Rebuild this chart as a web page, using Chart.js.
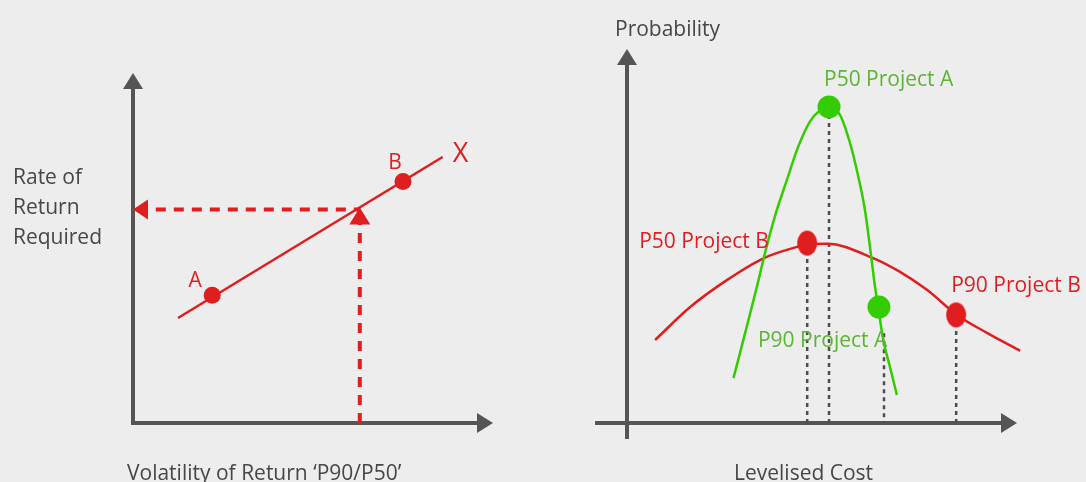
<!DOCTYPE html>
<html>
<head>
<meta charset="utf-8">
<script src="https://cdn.jsdelivr.net/npm/chart.js@4"></script>
<style>
  html, body { margin: 0; padding: 0; background: #ededed; }
  #wrap { position: relative; width: 1086px; height: 482px; overflow: hidden; }
  .panel { position: absolute; top: 0; height: 482px; }
  #leftPanel { left: 0; width: 560px; }
  #rightPanel { left: 560px; width: 526px; }
</style>
</head>
<body>
<div id="wrap">
  <div class="panel" id="leftPanel"><canvas id="returnChart"></canvas></div>
  <div class="panel" id="rightPanel"><canvas id="costChart"></canvas></div>
</div>
<script>
/* ---- left panel: rate of return vs volatility ---- */
var lineVol      = [1.25, 8.6];
var lineReturn   = [3.0, 7.6];
var projectNames = ['A', 'B'];
var projectVol   = [2.2, 7.5];
var projectRet   = [3.65, 6.9];
var requiredVol  = 6.3;
var requiredRet  = 6.1;

/* ---- right panel: probability vs levelised cost ---- */
var costA = [2.73, 3.03, 3.33, 3.54, 3.79, 4.10, 4.39, 4.69, 4.91, 5.18, 5.46, 5.72, 5.93, 6.10, 6.23, 6.36, 6.44, 6.57, 6.74, 6.92];
var probA = [1.20, 2.41, 3.64, 4.55, 5.52, 6.50, 7.39, 8.06, 8.32, 8.42, 8.24, 7.48, 6.59, 5.70, 4.71, 3.64, 3.11, 2.22, 1.51, 0.75];
var costB = [0.72, 1.62, 2.56, 3.51, 4.36, 4.62, 5.13, 6.31, 7.00, 7.69, 8.46, 9.23, 10.08];
var probB = [2.22, 3.10, 3.82, 4.41, 4.71, 4.78, 4.79, 4.41, 4.04, 3.56, 2.89, 2.41, 1.93];

var markerNamesA = ['P50 Project A', 'P90 Project A'];
var markerCostA  = [5.18, 6.46];
var markerProbA  = [8.45, 3.10];
var markerNamesB = ['P50 Project B', 'P90 Project B'];
var markerCostB  = [4.62, 8.44];
var markerProbB  = [4.81, 2.89];

var dropCost = [4.62, 5.18, 6.59, 8.44];
var dropTop  = [4.81, 8.45, 2.40, 2.89];

var RED = '#e01d1f';
var GREEN = '#33cc00';
var GREEN_TEXT = '#5cb535';
var AXIS = '#555555';
var TEXT = '#474747';
var FONT = '"Open Sans", "Noto Sans", sans-serif';

function pts(xs, ys) {
  return xs.map(function(x, i) { return { x: x, y: ys[i] }; });
}

function drawText(ctx, txt, x, y, color, size, align) {
  ctx.save();
  ctx.font = size + 'px ' + FONT;
  ctx.fillStyle = color;
  ctx.textAlign = align || 'left';
  ctx.textBaseline = 'alphabetic';
  ctx.fillText(txt, x, y);
  ctx.restore();
}

function arrowHead(ctx, tipX, tipY, dir, len, half, color) {
  ctx.save();
  ctx.fillStyle = color;
  ctx.beginPath();
  ctx.moveTo(tipX, tipY);
  if (dir === 'up') {
    ctx.lineTo(tipX - half, tipY + len);
    ctx.lineTo(tipX + half, tipY + len);
  } else if (dir === 'right') {
    ctx.lineTo(tipX - len, tipY - half);
    ctx.lineTo(tipX - len, tipY + half);
  } else if (dir === 'left') {
    ctx.lineTo(tipX + len, tipY - half);
    ctx.lineTo(tipX + len, tipY + half);
  }
  ctx.closePath();
  ctx.fill();
  ctx.restore();
}

function drawAxes(chart, extLeft, extDown) {
  var ctx = chart.ctx;
  var xs = chart.scales.x, ys = chart.scales.y;
  var ox = xs.getPixelForValue(0), oy = ys.getPixelForValue(0);
  var tx = xs.getPixelForValue(xs.max), ty = ys.getPixelForValue(ys.max);
  ctx.save();
  ctx.strokeStyle = AXIS;
  ctx.lineWidth = 4;
  ctx.beginPath();
  ctx.moveTo(ox, oy + extDown);
  ctx.lineTo(ox, ty + 16);
  ctx.moveTo(ox - extLeft, oy);
  ctx.lineTo(tx - 16, oy);
  ctx.stroke();
  ctx.restore();
  arrowHead(ctx, ox, ty, 'up', 16, 10, AXIS);
  arrowHead(ctx, tx, oy, 'right', 16, 10, AXIS);
}

/* ---- left chart ---- */
var returnDecor = {
  id: 'returnDecor',
  beforeDatasetsDraw: function(chart) { drawAxes(chart, 2, 2); },
  afterDatasetsDraw: function(chart) {
    var ctx = chart.ctx;
    var xs = chart.scales.x, ys = chart.scales.y;
    // heads of the dashed arrows
    arrowHead(ctx, xs.getPixelForValue(0), ys.getPixelForValue(requiredRet), 'left', 15, 10, RED);
    arrowHead(ctx, xs.getPixelForValue(requiredVol), ys.getPixelForValue(requiredRet) - 2, 'up', 17, 10.5, RED);
  },
  afterDraw: function(chart) {
    var ctx = chart.ctx;
    var xs = chart.scales.x, ys = chart.scales.y;
    drawText(ctx, 'Rate of', 13, 184, TEXT, 21);
    drawText(ctx, 'Return', 13, 214, TEXT, 21);
    drawText(ctx, 'Required', 13, 244, TEXT, 21);
    drawText(ctx, 'Volatility of Return \u2018P90/P50\u2019', 127, 480, TEXT, 21);
    var offs = [[-17, -8], [-8, -13]];
    projectNames.forEach(function(n, i) {
      drawText(ctx, n, xs.getPixelForValue(projectVol[i]) + offs[i][0],
        ys.getPixelForValue(projectRet[i]) + offs[i][1], RED, 21, 'center');
    });
    drawText(ctx, 'X', xs.getPixelForValue(lineVol[1]) + 18, ys.getPixelForValue(lineReturn[1]) + 5, RED, 27, 'center');
  }
};

new Chart(document.getElementById('returnChart'), {
  type: 'line',
  data: {
    datasets: [
      {
        data: pts(projectVol, projectRet),
        showLine: false,
        pointRadius: 8.5,
        pointBackgroundColor: RED,
        pointBorderWidth: 0,
        order: 0
      },
      {
        data: pts(lineVol, lineReturn),
        borderColor: RED,
        borderWidth: 2.5,
        pointRadius: 0,
        order: 1
      },
      {
        data: [{ x: requiredVol, y: 0 }, { x: requiredVol, y: requiredRet }],
        borderColor: RED,
        borderWidth: 4,
        borderDash: [10, 8],
        pointRadius: 0,
        order: 2
      },
      {
        data: [{ x: requiredVol, y: requiredRet }, { x: 0, y: requiredRet }],
        borderColor: RED,
        borderWidth: 4,
        borderDash: [10, 8],
        borderDashOffset: 4,
        pointRadius: 0,
        order: 2
      }
    ]
  },
  options: {
    responsive: true,
    maintainAspectRatio: false,
    animation: false,
    layout: { padding: { left: 133, right: 67, top: 73, bottom: 59 } },
    plugins: { legend: { display: false }, tooltip: { enabled: false } },
    scales: {
      x: { type: 'linear', min: 0, max: 10, display: false },
      y: { type: 'linear', min: 0, max: 10, display: false }
    }
  },
  plugins: [returnDecor]
});

/* ---- right chart ---- */
function ellipseDot(rx, ry, color) {
  var c = document.createElement('canvas');
  c.width = rx * 2 + 2;
  c.height = ry * 2 + 2;
  var g = c.getContext('2d');
  g.fillStyle = color;
  g.beginPath();
  g.ellipse(rx + 1, ry + 1, rx, ry, 0, 0, Math.PI * 2);
  g.fill();
  return c;
}

var dropPts = [];
dropCost.forEach(function(c, i) {
  dropPts.push({ x: c, y: dropTop[i] }, { x: c, y: 0 }, { x: c, y: null });
});

var costDecor = {
  id: 'costDecor',
  beforeDatasetsDraw: function(chart) { drawAxes(chart, 32, 16); },
  afterDraw: function(chart) {
    var ctx = chart.ctx;
    var xs = chart.scales.x, ys = chart.scales.y;
    var ox = xs.getPixelForValue(0);
    drawText(ctx, 'Probability', ox - 12, 36, TEXT, 21);
    drawText(ctx, 'Levelised Cost', 174, 480, TEXT, 21);
    var offA = [[-5, -21], [-121, 40]];
    markerNamesA.forEach(function(n, i) {
      drawText(ctx, n, xs.getPixelForValue(markerCostA[i]) + offA[i][0],
        ys.getPixelForValue(markerProbA[i]) + offA[i][1], GREEN_TEXT, 21);
    });
    var offB = [[-168, 5], [-5, -23]];
    markerNamesB.forEach(function(n, i) {
      drawText(ctx, n, xs.getPixelForValue(markerCostB[i]) + offB[i][0],
        ys.getPixelForValue(markerProbB[i]) + offB[i][1], RED, 21);
    });
  }
};

new Chart(document.getElementById('costChart'), {
  type: 'line',
  data: {
    datasets: [
      {
        data: pts(markerCostA, markerProbA),
        showLine: false,
        pointRadius: 11.5,
        pointBackgroundColor: GREEN,
        pointBorderWidth: 0,
        order: 0
      },
      {
        data: pts(markerCostB, markerProbB),
        showLine: false,
        pointStyle: ellipseDot(10, 12.5, RED),
        order: 0
      },
      {
        data: pts(costA, probA),
        borderColor: GREEN,
        borderWidth: 2.5,
        cubicInterpolationMode: 'monotone',
        pointRadius: 0,
        clip: false,
        order: 1
      },
      {
        data: pts(costB, probB),
        borderColor: RED,
        borderWidth: 2.5,
        cubicInterpolationMode: 'monotone',
        pointRadius: 0,
        clip: false,
        order: 1
      },
      {
        data: dropPts,
        borderColor: '#4d4d4d',
        borderWidth: 2.5,
        borderDash: [4, 4],
        spanGaps: false,
        pointRadius: 0,
        order: 2
      }
    ]
  },
  options: {
    responsive: true,
    maintainAspectRatio: false,
    animation: false,
    layout: { padding: { left: 67, right: 69, top: 49, bottom: 59 } },
    plugins: { legend: { display: false }, tooltip: { enabled: false } },
    scales: {
      x: { type: 'linear', min: 0, max: 10, display: false },
      y: { type: 'linear', min: 0, max: 10, display: false }
    }
  },
  plugins: [costDecor]
});
</script>
</body>
</html>
